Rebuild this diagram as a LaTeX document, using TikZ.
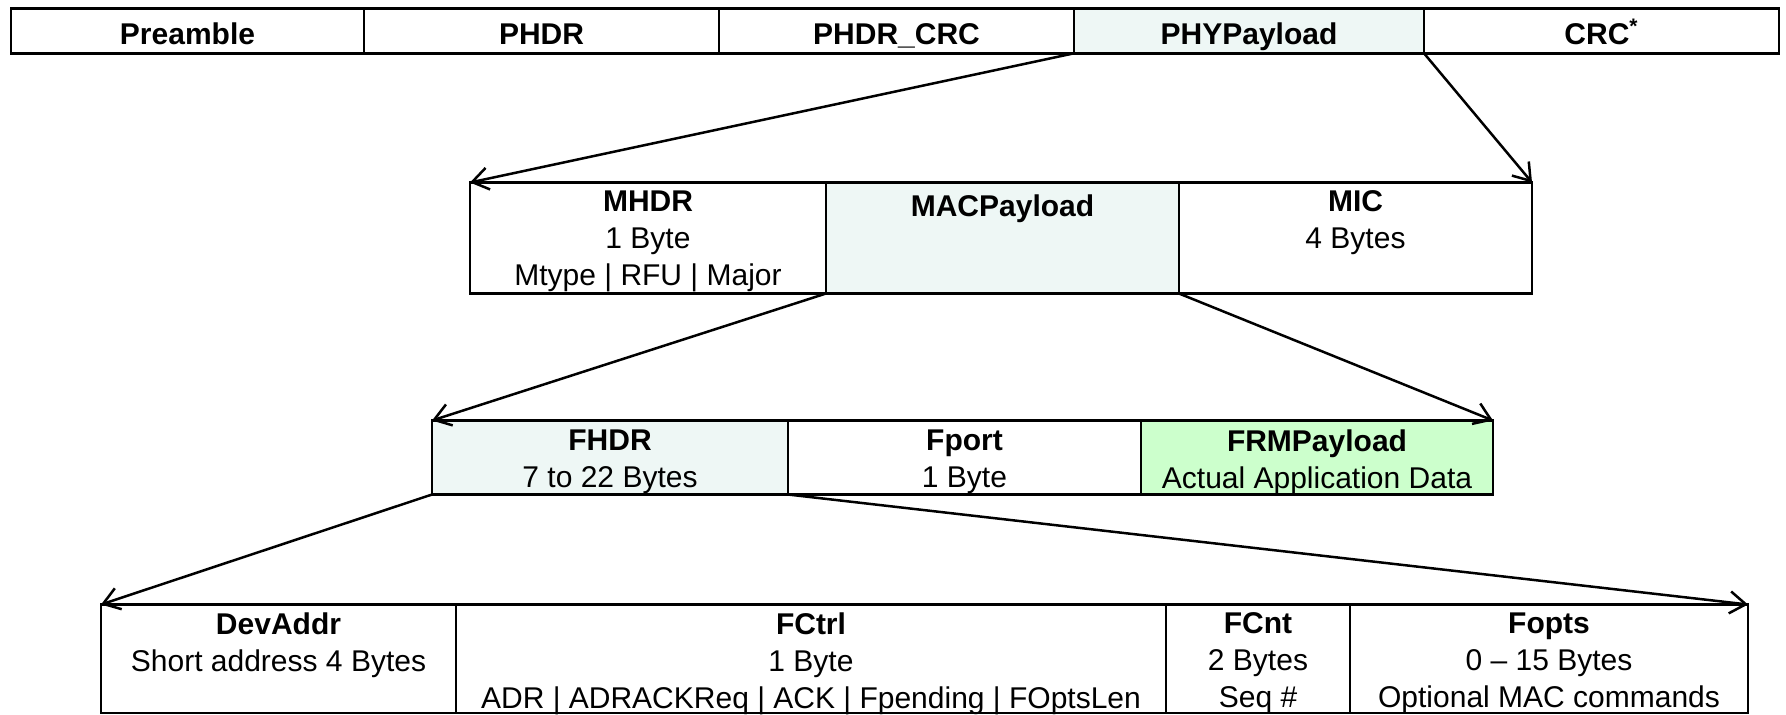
\documentclass[tikz,border=0pt]{standalone}
\usepackage{fontspec}
\setmainfont{Liberation Sans}
\usetikzlibrary{arrows.meta}
\definecolor{paleaqua}{RGB}{238,247,245}
\definecolor{palegreen}{RGB}{204,255,204}
\begin{document}
\begin{tikzpicture}[x=0.5pt,y=-0.5pt,
  cell/.style={draw=black, line width=1.2pt, anchor=north west,
    inner sep=0pt, outer sep=0pt},
  celltext/.style={anchor=north, inner sep=0pt, align=center,
    font=\fontsize{15}{18.5}\selectfont, execute at begin node=\strut},
  link/.style={line width=1.25pt,
    -{Straight Barb[length=8pt,width=11pt,line width=1.25pt]}}]
\useasboundingbox (0,0) rectangle (1786,714);

% ---- PHY frame ----
\node[cell, minimum width=176.5pt, minimum height=22.5pt] (pre)  at (11,8.3) {};
\node[cell, minimum width=177.5pt, minimum height=22.5pt] (phdr) at (364,8.3) {};
\node[cell, minimum width=177.5pt, minimum height=22.5pt] (pcrc) at (719,8.3) {};
\node[cell, fill=paleaqua, minimum width=175pt, minimum height=22.5pt] (phy) at (1074,8.3) {};
\node[cell, minimum width=177.5pt, minimum height=22.5pt] (crc)  at (1424,8.3) {};

\foreach \c/\t in {pre/Preamble, phdr/PHDR, pcrc/PHDR\_CRC, phy/PHYPayload, crc/CRC\textsuperscript{*}}
  \node[celltext, yshift=-4.75pt] (\c-t) at (\c.north) {\textbf{\t}};

% ---- MAC frame ----
\node[cell, minimum width=178pt, minimum height=55.5pt] (mhdr) at (470,182.5) {};
\node[cell, fill=paleaqua, minimum width=176.5pt, minimum height=55.5pt] (macp) at (826,182.5) {};
\node[cell, minimum width=176.5pt, minimum height=55.5pt] (mic) at (1179,182.5) {};

\node[celltext, yshift=-3.75pt] (mhdr-t) at (mhdr.north)
  {\textbf{MHDR}\\1 Byte\\Mtype | RFU | Major};
\node[celltext, yshift=-3.75pt] (macp-t) at (macp.north) {\textbf{MACPayload}};
\node[celltext, yshift=-3.75pt] (mic-t) at (mic.north) {\textbf{MIC}\\4 Bytes};

% ---- MAC payload ----
\node[cell, fill=paleaqua, minimum width=178pt, minimum height=37pt] (fhdr) at (432,420.5) {};
\node[cell, minimum width=176.5pt, minimum height=37pt] (fport) at (788,420.5) {};
\node[cell, fill=palegreen, minimum width=176pt, minimum height=37pt] (frm) at (1141,420.5) {};

\node[celltext, yshift=-4.6pt] (fhdr-t) at (fhdr.north) {\textbf{FHDR}\\7 to 22 Bytes};
\node[celltext, yshift=-4.6pt] (fport-t) at (fport.north) {\textbf{Fport}\\1 Byte};
\node[celltext, yshift=-4.6pt] (frm-t) at (frm.north) {\textbf{FRMPayload}\\Actual Application Data};

% ---- frame header ----
\node[cell, minimum width=177.5pt, minimum height=54.25pt] (devaddr) at (101,604.5) {};
\node[cell, minimum width=355pt, minimum height=54.25pt] (fctrl) at (456,604.5) {};
\node[cell, minimum width=92pt, minimum height=54.25pt] (fcnt) at (1166,604.5) {};
\node[cell, minimum width=199pt, minimum height=54.25pt] (fopts) at (1350,604.5) {};

\node[celltext, yshift=-3.9pt] (devaddr-t) at (devaddr.north)
  {\textbf{DevAddr}\\Short address 4 Bytes};
\node[celltext, yshift=-3.9pt] (fctrl-t) at (fctrl.north)
  {\textbf{FCtrl}\\1 Byte\\ADR | ADRACKReq | ACK | Fpending | FOptsLen};
\node[celltext, yshift=-3.9pt] (fcnt-t) at (fcnt.north)
  {\textbf{FCnt}\\2 Bytes\\Seq \#};
\node[celltext, yshift=-3.9pt] (fopts-t) at (fopts.north)
  {\textbf{Fopts}\\0 – 15 Bytes\\Optional MAC commands};

% ---- expansion arrows ----
\draw[link] (phy.south west) -- (mhdr.north west);
\draw[link] (phy.south east) -- (mic.north east);
\draw[link] (macp.south west) -- (fhdr.north west);
\draw[link] (macp.south east) -- (frm.north east);
\draw[link] (fhdr.south west) -- (devaddr.north west);
\draw[link] (fhdr.south east) -- (fopts.north east);
\end{tikzpicture}
\end{document}
